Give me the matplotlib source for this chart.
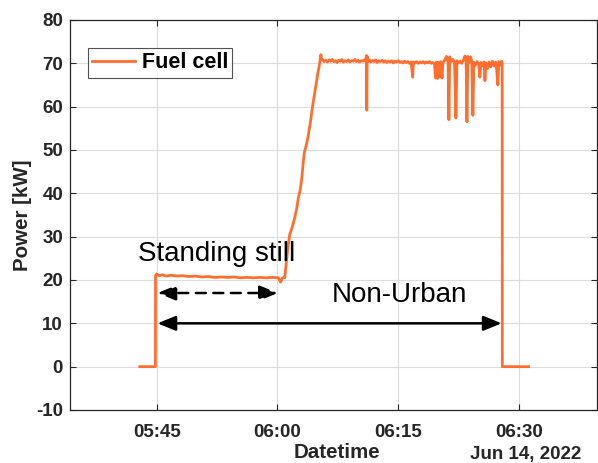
import matplotlib
matplotlib.use("Agg")
import matplotlib.pyplot as plt
import matplotlib.dates as mdates
from matplotlib.patches import FancyArrowPatch
from datetime import datetime, timedelta

plt.rcParams['font.family'] = ['Liberation Sans', 'DejaVu Sans']

# minutes after 05:00 on Jun 14, 2022
minutes = [
    42.9, 44.84, 44.86, 45.0, 45.3, 45.7, 46.2, 46.8, 47.5, 48.2, 49.0, 49.8, 50.6, 51.4,
    52.2, 53.0, 53.8, 54.6, 55.4, 56.2, 57.0, 57.8, 58.6, 59.4, 60.1, 60.4, 60.6, 60.8,
    60.9, 61.1, 61.3, 61.53, 61.8, 62.1, 62.4, 62.6, 62.8, 63.0, 63.2, 63.35, 63.5, 63.8,
    64.1, 64.4, 64.7, 65.0, 65.25, 65.4, 65.5,
    65.6, 65.8, 66.0, 66.2, 66.4, 66.6, 66.8, 67.0, 67.2, 67.4, 67.6, 67.8, 68.0, 68.2,
    68.4, 68.6, 68.8, 69.0, 69.2, 69.4, 69.6, 69.8, 70.0, 70.2, 70.4, 70.6, 70.8, 71.0,
    71.05, 71.1, 71.15, 71.25, 71.4, 71.6, 71.8, 72.0, 72.2, 72.4, 72.6, 72.8, 73.0, 73.2,
    73.4, 73.6, 73.8, 74.0, 74.2, 74.4, 74.6, 74.8, 75.0, 75.2, 75.4, 75.6, 75.8, 76.0,
    76.2, 76.4, 76.6, 76.8, 76.9, 77.1, 77.3, 77.5, 77.7, 77.9, 78.1, 78.3, 78.5, 78.7,
    78.9, 79.1, 79.3, 79.5, 79.65, 79.75, 79.9, 80.0, 80.15, 80.25, 80.45, 80.55, 80.8,
    81.0, 81.2, 81.3, 81.4, 81.6, 81.8, 82.0, 82.17, 82.3, 82.5, 82.7, 82.9, 83.1, 83.3,
    83.45, 83.54, 83.65, 83.8, 84.0, 84.15, 84.28, 84.4, 84.6, 84.8, 85.0, 85.15, 85.3,
    85.5, 85.65, 85.78, 85.9, 86.1, 86.3, 86.5, 86.7, 86.9, 87.1, 87.25, 87.39, 87.5,
    87.7, 87.85, 87.92, 87.94, 88.5, 89.5, 90.4, 91.2,
]
power_kw = [
    0.0, 0.0, 21.0, 21.4, 21.0, 21.2, 20.9, 21.1, 20.9, 21.0, 20.8, 20.9, 20.7, 20.8,
    20.6, 20.7, 20.6, 20.7, 20.5, 20.6, 20.5, 20.6, 20.5, 20.6, 20.5, 19.5, 20.4, 20.6,
    20.5, 24.0, 27.5, 30.5, 32.0, 34.0, 36.5, 39.0, 40.5, 43.0, 47.0, 49.5, 50.5, 53.0,
    56.5, 60.5, 64.0, 67.5, 70.0, 72.0, 70.8,
    70.9, 70.4, 70.7, 70.3, 70.8, 70.5, 70.9, 70.4, 70.6, 70.2, 70.7, 70.5, 70.9, 70.3,
    70.6, 70.4, 70.8, 70.3, 70.6, 70.5, 70.9, 70.4, 70.7, 70.3, 70.6, 70.5, 70.8, 70.4,
    71.8, 59.2, 71.6, 70.5, 70.8, 70.3, 70.7, 70.4, 70.8, 70.2, 70.6, 70.4, 70.7, 70.3,
    70.6, 70.2, 70.5, 70.3, 70.6, 70.1, 70.5, 70.3, 70.6, 70.2, 70.4, 70.1, 70.5, 70.2,
    70.4, 70.0, 70.3, 66.8, 70.3, 70.1, 70.4, 70.0, 70.3, 70.1, 70.4, 70.0, 70.3, 70.1,
    70.4, 70.0, 70.2, 69.9, 66.6, 70.3, 66.5, 70.2, 66.8, 70.4, 66.6, 70.1, 70.8,
    71.6, 70.3, 57.0, 71.5, 70.4, 70.9, 70.2, 57.4, 70.6, 70.1, 70.5, 70.0, 70.7, 71.7,
    70.2, 56.5, 71.6, 70.1, 71.5, 70.3, 58.0, 70.2, 69.6, 70.4, 69.9, 66.8, 70.2,
    69.5, 70.3, 66.0, 70.1, 68.8, 70.3, 69.2, 70.5, 69.4, 70.3, 68.3, 65.0, 70.4,
    69.6, 70.5, 70.0, 0.0, 0.0, 0.0, 0.0, 0.0,
]

y_ticks = [-10, 0, 10, 20, 30, 40, 50, 60, 70, 80]
x_tick_minutes = [45, 60, 75, 90]
x_tick_labels = ['05:45', '06:00', '06:15', '06:30']
date_label = 'Jun 14, 2022'

base = datetime(2022, 6, 14, 5, 0, 0)
def tm(m):
    return mdates.date2num(base + timedelta(minutes=m))

times = [base + timedelta(minutes=m) for m in minutes]

W, H = 598, 463
fig = plt.figure(figsize=(W / 100, H / 100), dpi=100)
ax = fig.add_axes([70 / W, 53 / H, 527 / W, 390 / H])

line_color = '#FF6E2E'
ax.plot(times, power_kw, color=line_color, lw=2.0, label='Fuel cell', zorder=3)

ax.set_xlim(tm(34.23), tm(99.7))
ax.set_ylim(-10, 80)
ax.set_yticks(y_ticks)
ax.set_yticklabels([str(v) for v in y_ticks])
ax.set_xticks([tm(m) for m in x_tick_minutes])
ax.set_xticklabels(x_tick_labels)

tick_col = '#262626'
ax.grid(True, color='#dcdcdc', lw=0.8, zorder=0)
ax.set_axisbelow(True)
ax.tick_params(direction='in', length=4, width=0.8, colors=tick_col,
               top=True, right=True, labelsize=13.5)
ax.tick_params(axis='x', pad=10)
ax.tick_params(axis='y', pad=5)
for lab in ax.get_xticklabels() + ax.get_yticklabels():
    lab.set_fontweight('bold')
for s in ax.spines.values():
    s.set_color(tick_col)
    s.set_linewidth(0.9)

ax.set_ylabel('Power [kW]', fontsize=14.8, fontweight='bold', color=tick_col)
ax.yaxis.set_label_coords(-0.073, 0.5)
ax.set_xlabel('Datetime', fontsize=14.8, fontweight='bold', color=tick_col)
ax.xaxis.label.set_va('baseline')
ax.xaxis.set_label_coords((337 - 70) / 527, (4.5 - 53) / 390)
fig.text(470 / W, 4.5 / H, date_label, ha='left', va='baseline',
         fontsize=13.5, fontweight='bold', color=tick_col)

leg = ax.legend(loc='upper left', bbox_to_anchor=(0.034, 0.928),
                prop={'weight': 'bold', 'size': 15.5}, frameon=True, fancybox=False,
                handlelength=2.0, borderpad=0.2, handletextpad=0.3, borderaxespad=0)
leg.get_frame().set_edgecolor(tick_col)
leg.get_frame().set_linewidth(0.8)

# annotations
arr_dash = FancyArrowPatch((tm(45.1), 17), (tm(60.05), 17),
                           arrowstyle='<|-|>,head_length=1.1,head_width=0.45', mutation_scale=10,
                           shrinkA=0, shrinkB=0,
                           color='black', lw=1.8, linestyle=(0, (4, 3)), zorder=4)
ax.add_patch(arr_dash)
arr_solid = FancyArrowPatch((tm(45.1), 10), (tm(87.85), 10),
                            arrowstyle='<|-|>,head_length=1.1,head_width=0.45', mutation_scale=10,
                            shrinkA=0, shrinkB=0,
                            color='black', lw=1.8, zorder=4)
ax.add_patch(arr_solid)

ax.text(tm(52.5), 24.4, 'Standing still', ha='center', va='baseline',
        fontsize=20, color='black')
ax.text(tm(75.1), 14.85, 'Non-Urban', ha='center', va='baseline',
        fontsize=20, color='black')

fig.savefig('out.png', dpi=100)
